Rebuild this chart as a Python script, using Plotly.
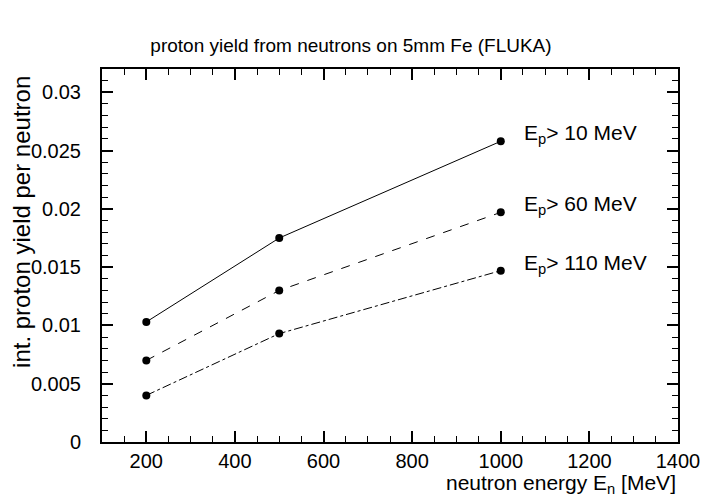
import plotly.graph_objects as go

energy = [200, 500, 1000]
y_10 = [0.0103, 0.0175, 0.0258]
y_60 = [0.0070, 0.0130, 0.0197]
y_110 = [0.0040, 0.0093, 0.0147]
labels = ["E<sub>p</sub>> 10 MeV", "E<sub>p</sub>> 60 MeV", "E<sub>p</sub>> 110 MeV"]
dashes = ["solid", "dash", "dashdot"]

FONT = "Liberation Sans, Arial, sans-serif"
fig = go.Figure()
for ys, lab, d in zip([y_10, y_60, y_110], labels, dashes):
    fig.add_trace(go.Scatter(
        x=energy, y=ys, mode="lines+markers",
        line=dict(color="black", width=1, dash=d),
        marker=dict(color="black", size=8, symbol="circle"),
        showlegend=False, hoverinfo="x+y"))
    fig.add_annotation(x=energy[-1], y=ys[-1], text=lab, showarrow=False,
                       xanchor="left", yanchor="middle", xshift=21, yshift=7,
                       font=dict(family=FONT, size=21, color="black"))

axis_common = dict(
    showline=True, linecolor="black", linewidth=2, mirror="allticks",
    ticks="inside", ticklen=11, tickwidth=1.5, tickcolor="black",
    showgrid=False, zeroline=False, automargin=False,
    tickfont=dict(family=FONT, size=20, color="black"),
)
fig.update_xaxes(range=[100, 1400], dtick=200, tick0=0,
                 minor=dict(dtick=50, ticks="inside", ticklen=6, tickcolor="black", tickwidth=1),
                 **axis_common)
fig.update_yaxes(range=[0, 0.032], dtick=0.005, tick0=0,
                 minor=dict(dtick=0.001, ticks="inside", ticklen=6, tickcolor="black", tickwidth=1),
                 tickformat="~g", ticklabelstandoff=15,
                 **axis_common)

fig.update_layout(title=dict(text="proton yield from neutrons on 5mm Fe (FLUKA)",
                             x=0.5, xref="container", xanchor="center",
                             y=1 - 45 / 500, yref="container", yanchor="middle",
                             font=dict(family=FONT, size=19, color="black")))
fig.add_annotation(text="neutron energy E<sub>n</sub> [MeV]", xref="paper", yref="paper",
                   x=1, y=0, yshift=-42, showarrow=False, xanchor="right", yanchor="middle",
                   font=dict(family=FONT, size=21, color="black"))
fig.add_annotation(text="int. proton yield per neutron", xref="paper", yref="paper",
                   x=0, y=0.59, xshift=-80, showarrow=False, textangle=-90,
                   xanchor="center", yanchor="middle",
                   font=dict(family=FONT, size=24, color="black"))

fig.update_layout(width=702, height=500, margin=dict(l=102, r=24, t=69, b=58, autoexpand=False),
                  paper_bgcolor="white", plot_bgcolor="white")
fig.write_html("out.html")
